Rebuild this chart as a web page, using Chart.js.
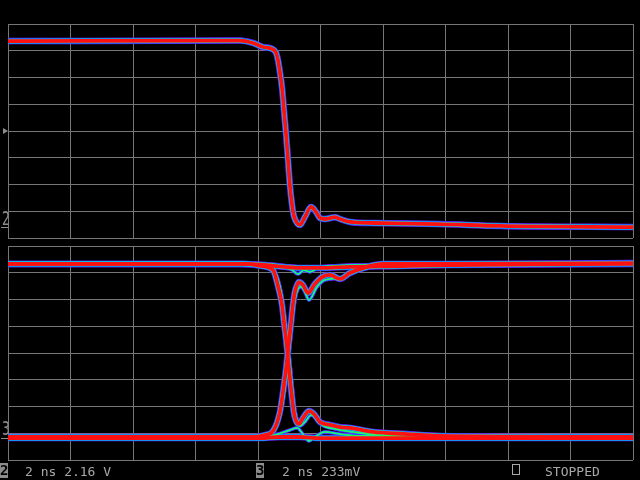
<!DOCTYPE html>
<html><head><meta charset="utf-8">
<script src="https://cdn.jsdelivr.net/npm/chart.js@4.4.1/dist/chart.umd.min.js"></script>
<style>
html,body{margin:0;padding:0;background:#000;width:640px;height:480px;overflow:hidden}
canvas{position:absolute;left:0;top:0}
.t{position:absolute;font-family:"DejaVu Sans Mono",monospace;font-size:13px;line-height:13px;color:#a8a8a8;white-space:pre}
.box{position:absolute;background:#8c8c8c;color:#000;font-family:"DejaVu Sans Mono",monospace;font-weight:bold;font-size:14px;line-height:15px;text-align:center;width:8px;height:15px;overflow:hidden}
.mk{position:absolute;font-family:"DejaVu Sans",sans-serif;font-size:19px;line-height:19px;color:#8c8c8c;transform:scaleX(0.65);transform-origin:left top}
</style></head><body>
<canvas id="c1" width="640" height="480"></canvas>
<canvas id="c2" width="640" height="480"></canvas>
<div class="mk" style="left:2px;top:209px">2</div>
<div style="position:absolute;left:1px;top:227px;width:7px;height:1px;background:#8c8c8c"></div>
<div style="position:absolute;left:3px;top:128px;width:0;height:0;border-top:3px solid transparent;border-bottom:3px solid transparent;border-left:5px solid #8c8c8c"></div>
<div class="mk" style="left:2px;top:419px">3</div>
<div style="position:absolute;left:1px;top:438px;width:7px;height:1px;background:#8c8c8c"></div>
<div class="box" style="left:0px;top:463px">2</div>
<div class="t" style="left:25px;top:465px">2 ns 2.16 V</div>
<div class="box" style="left:256px;top:463px">3</div>
<div class="t" style="left:282px;top:465px">2 ns 233mV</div>
<div style="position:absolute;left:512px;top:464px;width:6px;height:9px;border:1px solid #a8a8a8"></div>
<div class="t" style="left:545px;top:465px">STOPPED</div>
<script>
// time in ns (2 ns/div), values in divisions from centre
const topT = [0,7.42,7.84,8.16,8.45,8.58,8.64,8.70,8.77,8.83,8.90,8.96,9.02,9.09,9.15,9.25,9.34,9.50,9.70,9.86,9.98,10.14,10.46,10.62,10.94,11.68,13.82,15.74,20];
const topV = [3.36,3.38,3.29,3.14,3.07,2.92,2.65,2.21,1.61,0.79,-0.15,-1.08,-2.02,-2.77,-3.18,-3.44,-3.51,-3.22,-2.84,-3.03,-3.25,-3.29,-3.22,-3.29,-3.40,-3.44,-3.48,-3.55,-3.59];

const hiT = [0,7.42,8.22,8.86,9.34,9.98,10.94,12.54,14.14,20];
const hiV = [3.33,3.33,3.29,3.22,3.18,3.18,3.22,3.25,3.29,3.33];
const hi2T = [0,8.22,8.77,9.09,9.28,9.47,9.66,9.92,10.30,11.26,20];
const hi2V = [3.36,3.33,3.25,3.10,2.95,3.10,3.03,3.18,3.25,3.29,3.36];

const fall1T = [0,7.58,8.13,8.48,8.67,8.77,8.83,8.90,8.96,9.02,9.09,9.15,9.22,9.31,9.44,9.63,9.79,9.98,10.30,10.62,10.94,11.68,12.77,13.82,20];
const fall1V = [3.33,3.33,3.25,3.10,2.36,1.79,1.16,0.49,-0.19,-0.93,-1.68,-2.24,-2.54,-2.65,-2.43,-2.17,-2.28,-2.58,-2.69,-2.77,-2.80,-2.95,-3.03,-3.10,-3.14];
const fall2T = [0,7.74,8.22,8.54,8.74,8.83,8.93,9.02,9.09,9.15,9.25,9.34,9.50,9.70,9.86,10.05,10.46,11.26,12.54,20];
const fall2V = [3.33,3.33,3.25,3.03,2.28,1.53,0.49,-0.34,-1.20,-1.94,-2.51,-2.73,-2.58,-2.32,-2.43,-2.69,-2.84,-2.99,-3.10,-3.14];

const rise1T = [0,7.90,8.22,8.48,8.70,8.80,8.90,8.99,9.06,9.12,9.18,9.25,9.31,9.44,9.60,9.82,10.05,10.30,10.62,10.94,11.49,12.0,14.14,20];
const rise1V = [-3.14,-3.14,-3.07,-2.92,-2.21,-1.46,-0.56,0.41,1.16,1.83,2.28,2.54,2.65,2.54,2.24,2.58,2.84,2.92,2.77,2.99,3.22,3.33,3.33,3.36];
const rise2T = [0,8.0,8.32,8.54,8.70,8.83,8.93,9.02,9.09,9.18,9.28,9.38,9.50,9.63,9.89,10.14,10.62,11.26,12.54,20];
const rise2V = [-3.14,-3.14,-3.07,-2.88,-2.36,-1.57,-0.64,0.30,1.16,1.98,2.39,2.47,2.28,1.98,2.47,2.73,2.80,3.10,3.29,3.33];

const loT = [0,8.06,8.70,9.34,9.98,20];
const loV = [-3.18,-3.18,-3.14,-3.14,-3.18,-3.18];
const lo2T = [0,8.22,8.64,9.02,9.25,9.44,9.63,9.82,10.14,10.62,11.26,20];
const lo2V = [-3.14,-3.14,-3.03,-2.88,-2.80,-3.03,-3.29,-3.14,-2.95,-3.03,-3.10,-3.14];

const pts = (t,v) => t.map((x,i)=>({x:x,y:v[i]}));
const MAIN = [['#7a1cff',6.5],['#1c3cff',5.5],['#00e8e8',4.8],['#ff1010',3.8]];
const THIN = [['#7a1cff',3.5],['#1c50ff',2.6],['#00e0e0',1.8],['#30ff30',1]];
function band(t,v,layers,base){
  return layers.map((l,i)=>({data:pts(t,v),borderColor:l[0],borderWidth:l[1],pointRadius:0,
    cubicInterpolationMode:'monotone',fill:false,order:base+(layers.length-1-i)*10}));
}
function scales(){
  return {
    x:{type:'linear',min:0,max:20,ticks:{display:false,stepSize:2},grid:{color:'#767676',lineWidth:1,drawTicks:false},border:{display:false}},
    y:{type:'linear',min:-4,max:4,ticks:{display:false,stepSize:1},grid:{color:'#767676',lineWidth:1,drawTicks:false},border:{display:false}}
  };
}
function make(id,datasets,pad){
  new Chart(document.getElementById(id),{type:'line',data:{datasets:datasets},
    options:{responsive:false,animation:false,devicePixelRatio:1,layout:{padding:pad},
      plugins:{legend:{display:false},tooltip:{enabled:false}},scales:scales()}});
}
make('c1',band(topT,topV,MAIN,0),{left:8,right:7,top:24,bottom:242});
make('c2',[].concat(
  band(hiT,hiV,MAIN,0),band(fall1T,fall1V,MAIN,1),band(rise1T,rise1V,MAIN,2),band(loT,loV,MAIN,3),
  band(hi2T,hi2V,THIN,4),band(fall2T,fall2V,THIN,5),band(rise2T,rise2V,THIN,6),band(lo2T,lo2V,THIN,7)
),{left:8,right:7,top:246,bottom:20});
</script>
</body></html>
